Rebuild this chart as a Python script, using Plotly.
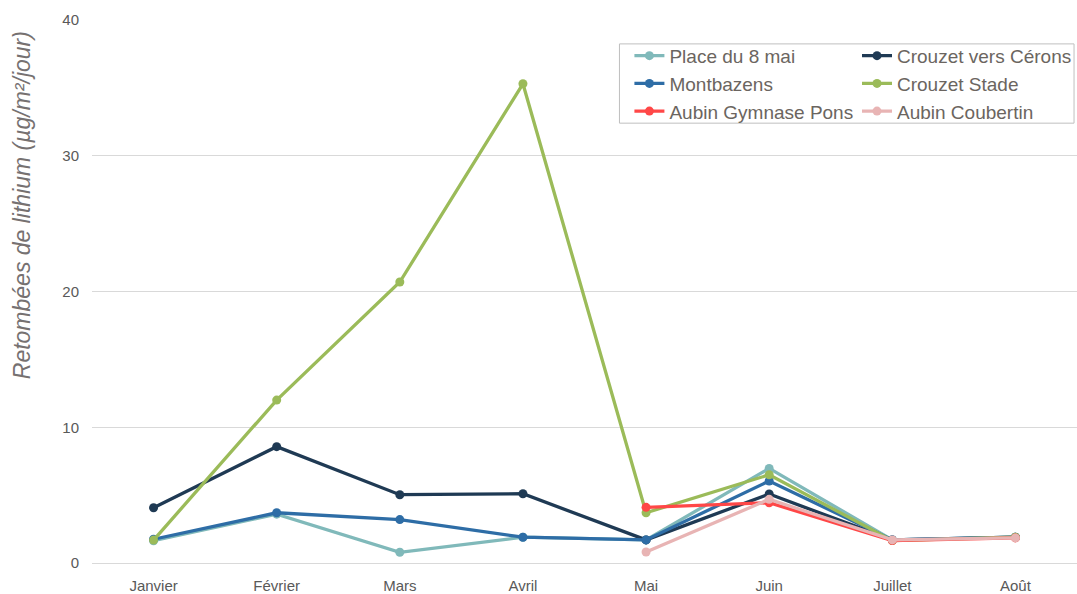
import plotly.graph_objects as go

months = ["Janvier", "Février", "Mars", "Avril", "Mai", "Juin", "Juillet", "Août"]

place_8_mai = [1.64, 3.6, 0.79, 1.9, 1.7, 6.97, 1.7, 1.9]
crouzet_cerons = [4.07, 8.57, 5.03, 5.1, 1.7, 5.08, 1.7, 1.9]
montbazens = [1.75, 3.7, 3.2, 1.9, 1.7, 6.04, 1.7, 1.9]
crouzet_stade = [1.69, 12.0, 20.7, 35.3, 3.7, 6.5, 1.65, 1.9]
aubin_pons = [None, None, None, None, 4.1, 4.44, 1.65, 1.85]
aubin_coubertin = [None, None, None, None, 0.81, 4.69, 1.7, 1.85]

y_title = "Retombées de lithium (µg/m²/jour)"

series = [
    ("Place du 8 mai", place_8_mai, "#80b9ba", "legend"),
    ("Crouzet vers Cérons", crouzet_cerons, "#1f3a54", "legend2"),
    ("Montbazens", montbazens, "#2e6da6", "legend"),
    ("Crouzet Stade", crouzet_stade, "#9bbb59", "legend2"),
    ("Aubin Gymnase Pons", aubin_pons, "#ff4747", "legend"),
    ("Aubin Coubertin", aubin_coubertin, "#e8b4b4", "legend2"),
]

FONT = "Liberation Sans, Arial, sans-serif"

fig = go.Figure()
for name, vals, color, lg in series:
    fig.add_trace(go.Scatter(
        x=months, y=vals, name=name, mode="lines+markers",
        line=dict(color=color, width=3.3),
        marker=dict(color=color, size=9),
        legend=lg,
    ))

leg_common = dict(
    orientation="v", yanchor="top", xanchor="left",
    bgcolor="rgba(0,0,0,0)", borderwidth=0,
    font=dict(family=FONT, size=19, color="#6b6560"),
    tracegroupgap=0, itemwidth=30,
)

fig.update_layout(
    width=1077, height=594,
    margin=dict(l=92, r=0, t=20, b=31),
    paper_bgcolor="white", plot_bgcolor="white",
    font=dict(family=FONT, color="#595959", size=15),
    showlegend=True,
    legend=dict(x=0.5456, y=0.969, **leg_common),
    legend2=dict(x=0.777, y=0.969, **leg_common),
    shapes=[dict(
        type="rect", xref="paper", yref="paper",
        x0=0.5355, x1=0.997, y0=0.810, y1=0.956,
        line=dict(color="#bfbfbf", width=1), fillcolor="rgba(0,0,0,0)",
        layer="below",
    )],
    annotations=[dict(
        text="<i>" + y_title + "</i>", textangle=-90,
        xref="paper", yref="paper", x=-0.071, y=0.659,
        xanchor="center", yanchor="middle", showarrow=False,
        font=dict(family=FONT, size=23, color="#767171"),
    )],
    xaxis=dict(
        range=[-0.5, 7.5],
        showgrid=False, showline=False, zeroline=False,
        tickfont=dict(size=15, color="#595959"), ticks="",
        ticklabelstandoff=12,
    ),
    yaxis=dict(
        range=[0, 40], dtick=10, showgrid=True, gridcolor="#d9d9d9", gridwidth=1,
        zeroline=True, zerolinecolor="#d9d9d9", zerolinewidth=1,
        showline=False, ticks="",
        ticklabelstandoff=12,
        tickfont=dict(size=15, color="#595959"),
    ),
)

fig.write_html(
    "out.html",
    config={"displayModeBar": False},
    post_script="document.body.style.margin='0';document.body.style.overflow='hidden';",
)
